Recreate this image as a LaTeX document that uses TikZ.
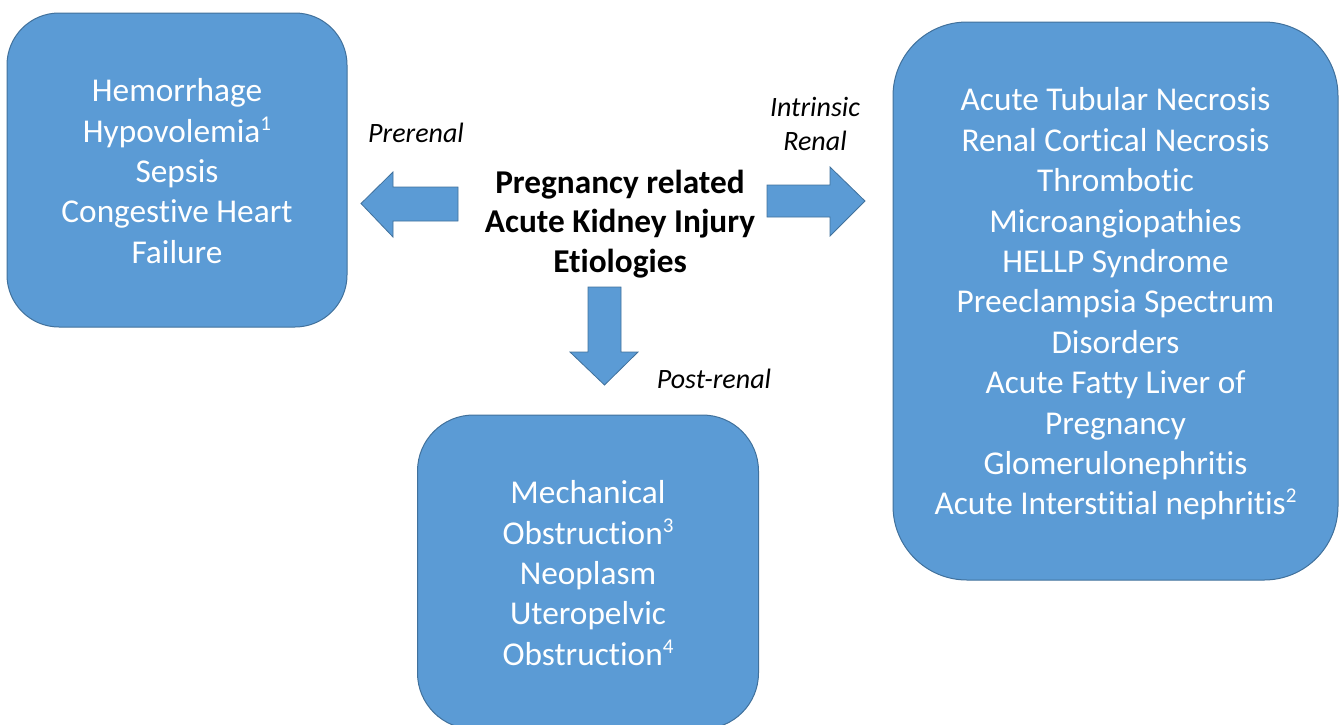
\documentclass[tikz,border=0pt]{standalone}
\usepackage{fontspec}
\setmainfont[Ligatures=NoCommon]{Carlito}
\definecolor{boxblue}{HTML}{5B9BD5}
\definecolor{boxline}{HTML}{41719C}
\newcommand{\supnum}[1]{\raisebox{0.36em}{\fontsize{21}{21}\selectfont #1}}
\tikzset{
  bluebox/.style={draw=boxline, line width=1pt, fill=boxblue, rounded corners=#1, inner sep=0pt},
  boxtext/.style={text=white, align=center, font=\fontsize{33.3}{40.4}\selectfont},
  titletext/.style={text=black, align=center, font=\fontsize{33.3}{39.8}\selectfont\bfseries},
  lbltext/.style={text=black, align=center, font=\fontsize{28}{34}\selectfont\itshape},
  blockarrow/.style={draw=boxline, line width=0.8pt, fill=boxblue}
}
\begin{document}
\begin{tikzpicture}[x=1pt,y=-1pt]
\useasboundingbox (0,0) rectangle (1341,724);
\begin{scope}
\clip (0,0) rectangle (1341,724);
% boxes
\node[bluebox=52pt, minimum width=340pt, minimum height=314pt] (pre) at (177,170) {};
\node[bluebox=74pt, minimum width=445pt, minimum height=558pt] (intr) at (1115.5,301) {};
\node[bluebox=56pt, minimum width=341pt, minimum height=314pt] (post) at (588,572) {};
\end{scope}
% box texts
\node[boxtext] (pretxt) at ([yshift=-1pt]pre.center) {Hemorrhage\\Hypovolemia\supnum{1}\\Sepsis\\Congestive Heart\\Failure};
\node[boxtext] (intrtxt) at ([yshift=-3pt]intr.center) {Acute Tubular Necrosis\\Renal Cortical Necrosis\\Thrombotic\\Microangiopathies\\HELLP Syndrome\\Preeclampsia Spectrum\\Disorders\\Acute Fatty Liver of\\Pregnancy\\Glomerulonephritis\\Acute Interstitial nephritis\supnum{2}};
\node[boxtext] (posttxt) at ([yshift=-1pt]post.center) {Mechanical\\Obstruction\supnum{3}\\Neoplasm\\Uteropelvic\\Obstruction\supnum{4}};
% centre title
\node[titletext] (title) at (620,224) {Pregnancy related\\Acute Kidney Injury\\Etiologies};
% labels
\node[lbltext] (lpre) at (416,133) {Prerenal};
\node[lbltext] (lintr) at (815,124) {Intrinsic\\Renal};
\node[lbltext] (lpost) at (714,379) {Post-renal};
% block arrows
\draw[blockarrow] (458,187) -- (393,187) -- (393,172) -- (361,203.5) -- (393,237) -- (393,221) -- (458,221) -- cycle;
\draw[blockarrow] (767,185) -- (830,185) -- (830,167) -- (865,201) -- (830,236) -- (830,217) -- (767,217) -- cycle;
\draw[blockarrow] (588,287) -- (621,287) -- (621,352) -- (638,352) -- (604.5,385) -- (570,352) -- (588,352) -- cycle;
\end{tikzpicture}
\end{document}
